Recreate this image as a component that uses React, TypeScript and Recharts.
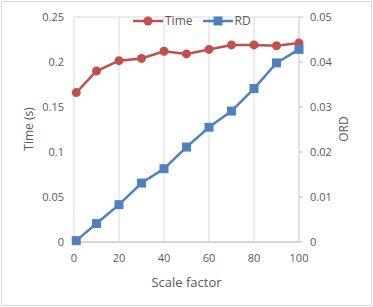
import React from "react";
import {
  LineChart,
  Line,
  XAxis,
  YAxis,
  CartesianGrid,
} from "recharts";

const scaleFactors = [1, 10, 20, 30, 40, 50, 60, 70, 80, 90, 100];
const timeValues = [0.166, 0.19, 0.2015, 0.204, 0.212, 0.209, 0.214, 0.219, 0.219, 0.218, 0.221];
const rdValues = [0.0003, 0.0041, 0.0083, 0.0131, 0.0163, 0.0211, 0.0255, 0.0291, 0.0341, 0.0398, 0.0428];

const xTicks = [0, 20, 40, 60, 80, 100];
const leftTicks = [0, 0.05, 0.1, 0.15, 0.2, 0.25];
const rightTicks = [0, 0.01, 0.02, 0.03, 0.04, 0.05];

const data = scaleFactors.map((s, i) => ({ s, time: timeValues[i], rd: rdValues[i] }));

const RED = "#C0504D";
const BLUE = "#4F81BD";
const TEXT = "#595959";
const GRID = "#D9D9D9";
const FONT = "'Open Sans', sans-serif";

const SquareDot = (props: any) => {
  const { cx, cy, index } = props;
  if (cx == null || cy == null) return null;
  return <rect key={`sq-${index}`} x={cx - 4.5} y={cy - 4.5} width={9} height={9} fill={BLUE} />;
};

const CircleDot = (props: any) => {
  const { cx, cy, index } = props;
  if (cx == null || cy == null) return null;
  return <circle key={`ci-${index}`} cx={cx} cy={cy} r={4.5} fill={RED} />;
};

// legend sits over the top of the plot area, like the original
const ChartLegend = () => (
  <div
    style={{
      position: "absolute",
      left: 133,
      top: 12,
      height: 18,
      display: "flex",
      alignItems: "center",
      fontFamily: FONT,
      fontSize: 12,
      color: TEXT,
      lineHeight: "18px",
    }}
  >
    <svg width={30} height={12}>
      <line x1={0} y1={6} x2={30} y2={6} stroke={RED} strokeWidth={2.5} />
      <circle cx={15} cy={6} r={4.5} fill={RED} />
    </svg>
    <span style={{ marginLeft: 2, marginRight: 10 }}>Time</span>
    <svg width={30} height={12}>
      <line x1={0} y1={6} x2={30} y2={6} stroke={BLUE} strokeWidth={2.5} />
      <rect x={10.5} y={1.5} width={9} height={9} fill={BLUE} />
    </svg>
    <span style={{ marginLeft: 2 }}>RD</span>
  </div>
);

const leftLabel = () => (
  <text
    x={0}
    y={0}
    transform="translate(33, 129) rotate(-90)"
    textAnchor="middle"
    fill={TEXT}
    fontSize={12}
    fontFamily={FONT}
  >
    Time (s)
  </text>
);

const rightLabel = () => (
  <text
    x={0}
    y={0}
    transform="translate(348, 129) rotate(-90)"
    textAnchor="middle"
    fill={TEXT}
    fontSize={12}
    fontFamily={FONT}
  >
    ORD
  </text>
);

export default function App() {
  const tickStyle = { fontSize: 11, fill: TEXT, fontFamily: FONT };
  return (
    <div style={{ position: "absolute", left: 0, top: 0, width: 373, height: 307, background: "#fff" }}>
      <div
        style={{
          position: "absolute",
          left: 1,
          top: 1,
          width: 369,
          height: 303,
          border: `1px solid ${GRID}`,
        }}
      />
      <LineChart
        width={373}
        height={307}
        data={data}
        margin={{ top: 17, right: 0, bottom: 0, left: 0 }}
        style={{ position: "absolute", left: 0, top: 0 }}
      >
        <CartesianGrid stroke={GRID} strokeWidth={1} />
        <XAxis
          dataKey="s"
          type="number"
          domain={[0, 100]}
          ticks={xTicks}
          height={65}
          tick={tickStyle}
          tickSize={0}
          tickMargin={12}
          axisLine={{ stroke: "#BFBFBF" }}
          label={{
            value: "Scale factor",
            position: "insideBottom",
            offset: 20,
            style: { fontSize: 13, fill: TEXT, fontFamily: FONT },
          }}
        />
        <YAxis
          yAxisId="left"
          domain={[0, 0.25]}
          ticks={leftTicks}
          width={74}
          tick={tickStyle}
          tickSize={0}
          tickMargin={10}
          axisLine={false}
          tickLine={false}
          label={{ content: leftLabel } as any}
        />
        <YAxis
          yAxisId="right"
          orientation="right"
          domain={[0, 0.05]}
          ticks={rightTicks}
          width={74}
          tick={tickStyle}
          tickSize={4}
          tickMargin={7}
          axisLine={{ stroke: GRID }}
          tickLine={{ stroke: "#BFBFBF" }}
          label={{ content: rightLabel } as any}
        />
        <Line
          yAxisId="left"
          dataKey="time"
          stroke={RED}
          strokeWidth={2.5}
          dot={CircleDot}
          activeDot={false}
          isAnimationActive={false}
        />
        <Line
          yAxisId="right"
          dataKey="rd"
          stroke={BLUE}
          strokeWidth={2.5}
          dot={SquareDot}
          activeDot={false}
          isAnimationActive={false}
        />
      </LineChart>
      <ChartLegend />
    </div>
  );
}
